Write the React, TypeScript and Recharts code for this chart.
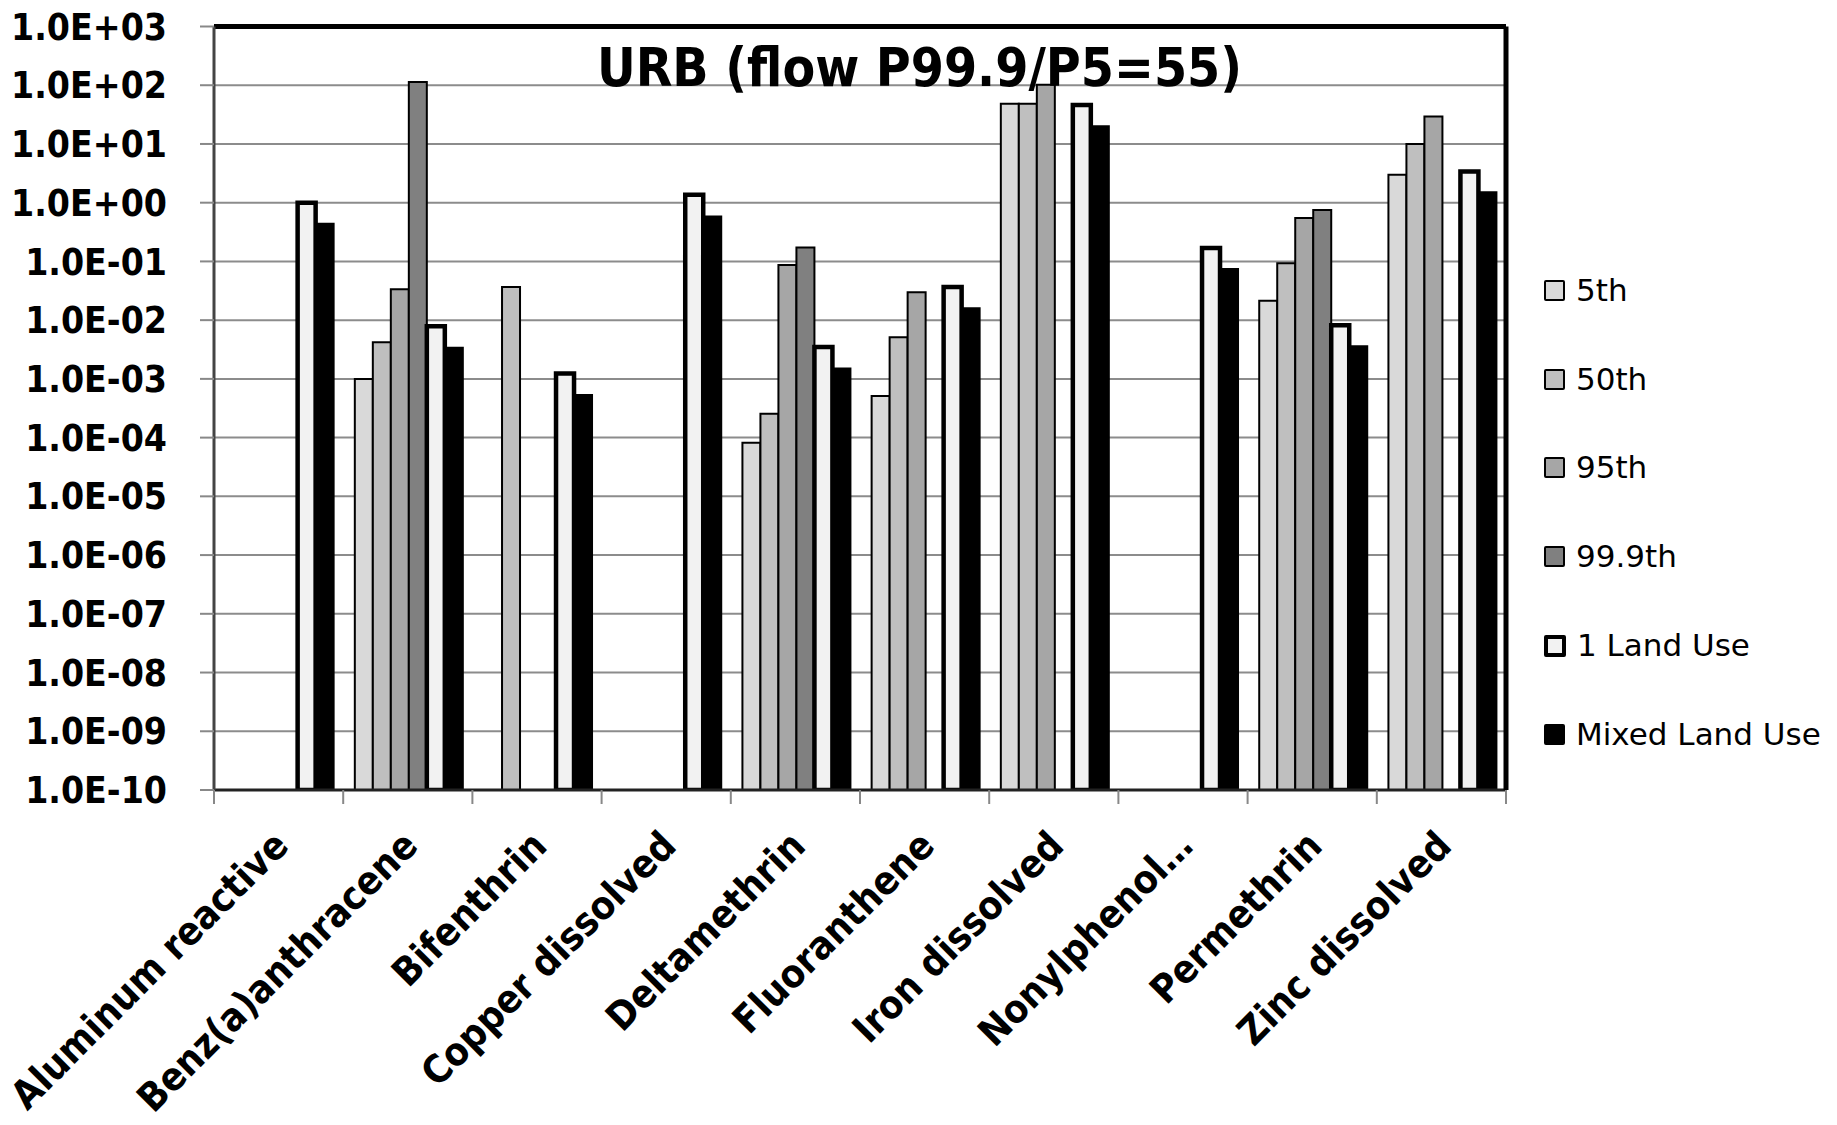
import React from 'react';
import { BarChart, Bar, XAxis, YAxis, CartesianGrid, ReferenceLine } from 'recharts';

const categories = [
  'Aluminum reactive',
  'Benz(a)anthracene',
  'Bifenthrin',
  'Copper dissolved',
  'Deltamethrin',
  'Fluoranthene',
  'Iron dissolved',
  'Nonylphenol\u2026',
  'Permethrin',
  'Zinc dissolved',
];

const p5 = [null, 1.0e-3, null, null, 8.2e-5, 5.1e-4, 48.5, null, 2.13e-2, 3.0];
const p50 = [null, 4.2e-3, 3.67e-2, null, 2.55e-4, 5.1e-3, 48.5, null, 9.3e-2, 10];
const p95 = [null, 3.36e-2, null, null, 8.7e-2, 3.0e-2, 102, null, 0.55, 29.4];
const p999 = [null, 114, null, null, 0.172, null, null, null, 0.75, null];
const landUse1 = [1.0, 7.9e-3, 1.23e-3, 1.37, 3.5e-3, 3.67e-2, 46, 0.17, 8.2e-3, 3.4];
const mixedLandUse = [0.44, 3.4e-3, 5.3e-4, 0.58, 1.5e-3, 1.6e-2, 20, 0.074, 3.6e-3, 1.5];

const seriesNames = ['5th', '50th', '95th', '99.9th', '1 Land Use', 'Mixed Land Use'];
const seriesKeys = ['p5', 'p50', 'p95', 'p999', 'lu1', 'mixed'];
const seriesValues = [p5, p50, p95, p999, landUse1, mixedLandUse];

const yTicks = [1e-10, 1e-9, 1e-8, 1e-7, 1e-6, 1e-5, 1e-4, 1e-3, 1e-2, 1e-1, 1e0, 1e1, 1e2, 1e3];

const seriesStyles = [
  { fill: '#d9d9d9', stroke: '#000', sw: 2 },
  { fill: '#bfbfbf', stroke: '#000', sw: 2 },
  { fill: '#a6a6a6', stroke: '#000', sw: 2 },
  { fill: '#808080', stroke: '#000', sw: 2 },
  { fill: '#f2f2f2', stroke: '#000', sw: 4.5 },
  { fill: '#000000', stroke: '#000', sw: 2 },
];

const data = categories.map((name, i) => {
  const row: any = { name };
  seriesKeys.forEach((k, j) => {
    row[k] = seriesValues[j][i];
  });
  return row;
});

const W = 1821;
const H = 1125;
const MARGIN = { top: 26.5, right: 322, bottom: 35, left: 0 };
const Y_AXIS_W = 206;
const R_AXIS_W = 1;
const BAND = (W - MARGIN.left - MARGIN.right - Y_AXIS_W - R_AXIS_W) / categories.length;

const COND = "'DejaVu Sans Condensed', 'DejaVu Sans', sans-serif";
const REG = "'DejaVu Sans', sans-serif";

function fmtExp(v: number) {
  const e = Math.round(Math.log10(v));
  const sign = e < 0 ? '-' : '+';
  return `1.0E${sign}${String(Math.abs(e)).padStart(2, '0')}`;
}

function XTick(props: any) {
  const { x, y, payload } = props;
  const index = props.index ?? payload?.index ?? 0;
  const left = x - BAND / 2;
  const ax = x + 12;
  const ay = y + 58;
  return (
    <g>
      <line x1={left} y1={y} x2={left} y2={y + 14} stroke="#888" strokeWidth={2} />
      {index === categories.length - 1 && (
        <line x1={x + BAND / 2} y1={y} x2={x + BAND / 2} y2={y + 14} stroke="#888" strokeWidth={2} />
      )}
      <text
        x={ax}
        y={ay}
        transform={`rotate(-45 ${ax} ${ay})`}
        textAnchor="end"
        fontFamily={COND}
        fontSize={39}
        fontWeight="bold"
        fill="#000"
      >
        {payload.value}
      </text>
    </g>
  );
}

function LegendBox() {
  return (
    <div style={{ position: 'absolute', left: 1536, top: 246 }}>
      {seriesNames.map((n, i) => {
        const s = seriesStyles[i];
        const isBold = i === 4;
        return (
          <div key={n} style={{ height: 88.8, display: 'flex', alignItems: 'center' }}>
            <div
              style={{
                width: isBold ? 22 : 21,
                height: isBold ? 22 : 21,
                boxSizing: 'border-box',
                background: s.fill,
                border: `${isBold ? 4 : 2}px solid #000`,
                borderRadius: 2,
              }}
            />
            <span
              style={{
                marginLeft: 11,
                fontFamily: REG,
                fontSize: 31,
                color: '#000',
                whiteSpace: 'nowrap',
                lineHeight: 1,
              }}
            >
              {n}
            </span>
          </div>
        );
      })}
    </div>
  );
}

export default function App() {
  return (
    <div style={{ position: 'relative', width: W, height: H, marginTop: -8, marginBottom: -8 }}>
      <BarChart
        width={W}
        height={H}
        data={data}
        margin={MARGIN}
        barCategoryGap="9%"
        barGap={0}
      >
        <CartesianGrid vertical={false} stroke="#8c8c8c" strokeWidth={2} />
        <XAxis
          dataKey="name"
          type="category"
          interval={0}
          height={300}
          tickSize={0}
          tickMargin={0}
          tickLine={false}
          axisLine={{ stroke: '#222', strokeWidth: 3 }}
          tick={<XTick />}
        />
        <YAxis
          type="number"
          scale="log"
          domain={[1e-10, 1e3]}
          ticks={yTicks}
          interval={0}
          allowDataOverflow
          width={Y_AXIS_W}
          tickSize={14}
          tickMargin={33}
          tickFormatter={fmtExp}
          tickLine={{ stroke: '#888', strokeWidth: 2 }}
          axisLine={{ stroke: '#444', strokeWidth: 3 }}
          tick={{ fontFamily: COND, fontSize: 37, fontWeight: 'bold', fill: '#000' }}
        />
        <YAxis
          yAxisId="r"
          orientation="right"
          width={R_AXIS_W}
          domain={[0, 1]}
          tick={false}
          tickLine={false}
          axisLine={{ stroke: '#000', strokeWidth: 5 }}
        />
        {seriesKeys.map((k, j) => (
          <Bar
            key={k}
            dataKey={k}
            name={seriesNames[j]}
            fill={seriesStyles[j].fill}
            stroke={seriesStyles[j].stroke}
            strokeWidth={seriesStyles[j].sw}
            isAnimationActive={false}
          />
        ))}
        <ReferenceLine y={1e3} stroke="#000" strokeWidth={5} />
      </BarChart>
      <svg
        width={W}
        height={130}
        style={{ position: 'absolute', left: 0, top: 0, pointerEvents: 'none' }}
      >
        <text
          x={911.5}
          y={86}
          textAnchor="middle"
          fontFamily={COND}
          fontSize={53}
          fontWeight="bold"
          fill="#000"
        >
          URB (flow P99.9/P5=55)
        </text>
      </svg>
      <LegendBox />
    </div>
  );
}
